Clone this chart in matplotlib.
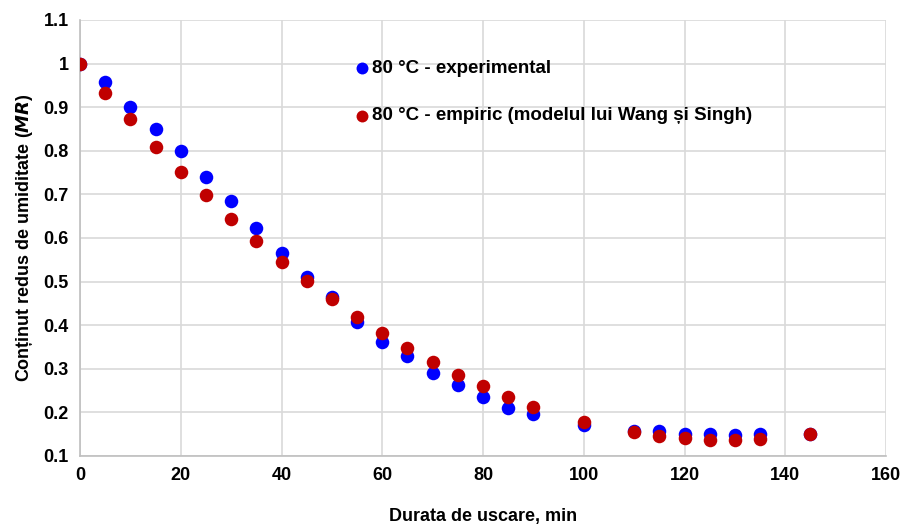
import matplotlib
matplotlib.use("Agg")
import matplotlib.pyplot as plt
from matplotlib.ticker import FuncFormatter

plt.rcParams["font.family"] = ["Liberation Sans", "DejaVu Sans"]
plt.rcParams["font.weight"] = "bold"

# Drying time (min) and moisture ratio
timp = [0, 5, 10, 15, 20, 25, 30, 35, 40, 45, 50, 55, 60, 65, 70, 75, 80, 85, 90,
        100, 110, 115, 120, 125, 130, 135, 145]
mr_exp = [1.0, 0.958, 0.900, 0.850, 0.800, 0.740, 0.685, 0.623, 0.566, 0.511, 0.465,
          0.407, 0.361, 0.329, 0.290, 0.263, 0.235, 0.210, 0.196,
          0.171, 0.157, 0.157, 0.150, 0.150, 0.148, 0.150, 0.150]
mr_emp = [1.0, 0.933, 0.873, 0.809, 0.751, 0.699, 0.644, 0.593, 0.545, 0.501, 0.460,
          0.419, 0.382, 0.348, 0.316, 0.286, 0.261, 0.235, 0.212,
          0.178, 0.155, 0.146, 0.141, 0.137, 0.137, 0.139, 0.150]

fig = plt.figure(figsize=(9.09, 5.31), dpi=100)
ax = fig.add_axes([80 / 909, 1 - 456 / 531, 806 / 909, 436 / 531])

ax.scatter(timp, mr_exp, s=95, color="#0000ff", zorder=3, linewidths=0,
           label="80 °C - experimental")
ax.scatter(timp, mr_emp, s=95, color="#c00000", zorder=4, linewidths=0,
           label="80 °C - empiric (modelul lui Wang și Singh)")

ax.set_xlim(0, 160)
ax.set_ylim(0.1, 1.1)
ax.set_xticks(range(0, 161, 20))
ax.set_yticks([0.1 * i for i in range(1, 12)])
ax.yaxis.set_major_formatter(FuncFormatter(lambda v, p: f"{v:.1f}".rstrip("0").rstrip(".")))

ax.grid(True, color="#d9d9d9", linewidth=1.2, zorder=0)
ax.set_axisbelow(True)
for s in ["top", "right"]:
    ax.spines[s].set_visible(False)
for s in ["left", "bottom"]:
    ax.spines[s].set_color("#bfbfbf")
    ax.spines[s].set_linewidth(1.2)
ax.tick_params(length=0, labelsize=13, pad=8)
for lbl in ax.get_xticklabels() + ax.get_yticklabels():
    lbl.set_fontweight("bold")

ax.set_xlabel("Durata de uscare, min", fontsize=13, fontweight="bold", labelpad=17)
ax.set_ylabel("Conținut redus de umiditate ($\\bf{\\it{MR}}$)", fontsize=13,
              fontweight="bold", labelpad=6)

leg = ax.legend(loc="upper left", bbox_to_anchor=(0.333, 0.925), frameon=False,
                fontsize=13.5, handlelength=0.6, handletextpad=0.25, labelspacing=1.6,
                markerscale=0.88, borderaxespad=0)
for t in leg.get_texts():
    t.set_fontweight("bold")

fig.savefig("out.png", dpi=100)
